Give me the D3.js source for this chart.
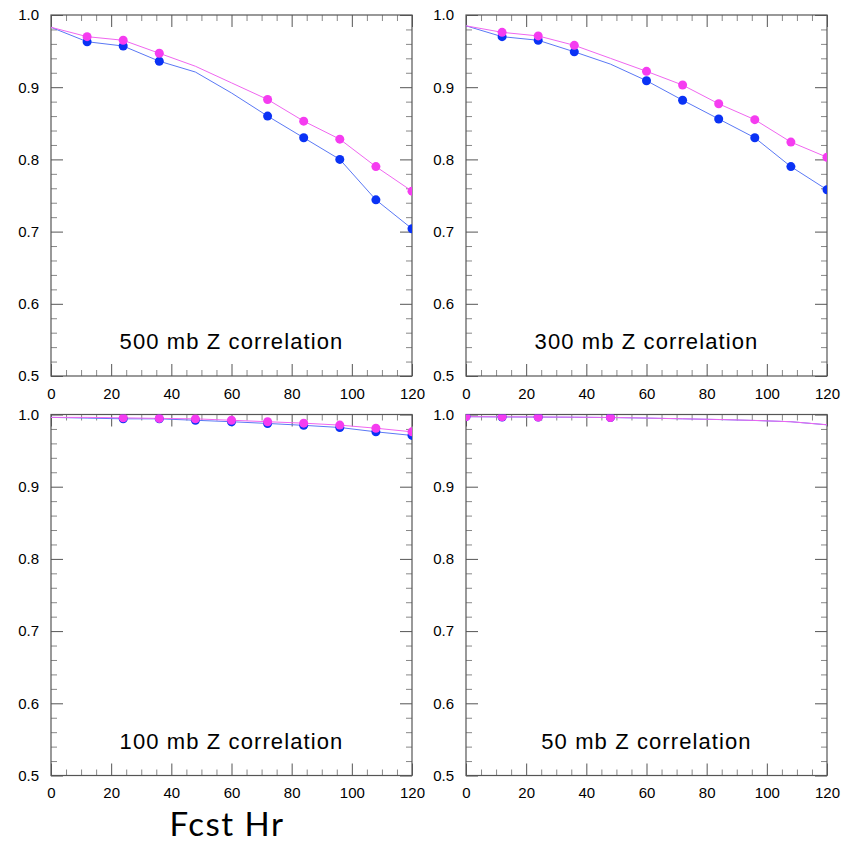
<!DOCTYPE html>
<html>
<head>
<meta charset="utf-8">
<script src="https://cdn.jsdelivr.net/npm/d3@7"></script>
<style>
  body { margin: 0; background: #fff; }
  svg { display: block; }
</style>
</head>
<body>
<div id="chart"></div>
<script>
// forecast hours and axis ticks
const hours = [0, 12, 24, 36, 48, 60, 72, 84, 96, 108, 120];
const xTicks = [0, 20, 40, 60, 80, 100, 120];
const yTicks = [0.5, 0.6, 0.7, 0.8, 0.9, 1.0];

const titles = ["500 mb Z correlation", "300 mb Z correlation", "100 mb Z correlation", "50 mb Z correlation"];

// blue series
const blue500 = [0.983, 0.963, 0.957, 0.936, 0.921, 0.892, 0.860, 0.830, 0.800, 0.744, 0.704];
const blue300 = [0.985, 0.970, 0.965, 0.949, 0.932, 0.909, 0.882, 0.856, 0.830, 0.790, 0.758];
const blue100 = [0.996, 0.995, 0.994, 0.994, 0.992, 0.990, 0.9876, 0.985, 0.982, 0.976, 0.971];
const blue50  = [0.997, 0.9966, 0.9964, 0.9962, 0.9958, 0.995, 0.994, 0.993, 0.9917, 0.990, 0.9857];

// magenta series
const mag500 = [0.983, 0.970, 0.965, 0.947, 0.929, 0.906, 0.883, 0.853, 0.828, 0.790, 0.756];
const mag300 = [0.985, 0.976, 0.971, 0.958, 0.940, 0.922, 0.903, 0.877, 0.855, 0.824, 0.803];
const mag100 = [0.996, 0.996, 0.9954, 0.9946, 0.994, 0.992, 0.990, 0.988, 0.9853, 0.981, 0.976];
const mag50  = [0.997, 0.9968, 0.9966, 0.9963, 0.9959, 0.9951, 0.9941, 0.9931, 0.9918, 0.990, 0.9858];

// hours that carry a marker
const marks500 = [12, 24, 36, 72, 84, 96, 108, 120];
const marks300 = [12, 24, 36, 60, 72, 84, 96, 108, 120];
const marks100 = [24, 36, 48, 60, 72, 84, 96, 108, 120];
const marks50  = [0, 12, 24, 48];

const panels = [
  { title: titles[0], blue: blue500, mag: mag500, marks: marks500, x: 51,  y: 15 },
  { title: titles[1], blue: blue300, mag: mag300, marks: marks300, x: 466, y: 15 },
  { title: titles[2], blue: blue100, mag: mag100, marks: marks100, x: 51,  y: 414.5 },
  { title: titles[3], blue: blue50,  mag: mag50,  marks: marks50,  x: 466, y: 414.5 }
];

const width = 841, height = 847;
const pw = 361, ph = 361;
const blueDot = "#0a32f5", blueLine = "#5a78f5";
const magDot = "#f53cf0", magLine = "#f066f0";
const frameColor = "#555";
const labelFont = "'Liberation Sans', Arial, Helvetica, sans-serif";

const svg = d3.select("#chart").append("svg")
  .attr("width", width)
  .attr("height", height);

const x = d3.scaleLinear().domain([0, 120]).range([0, pw]);
const y = d3.scaleLinear().domain([0.5, 1.0]).range([ph, 0]);

const minorX = d3.range(0, 121, 5).filter(v => v % 20 !== 0);
const minorY = d3.range(0.52, 1.0, 0.02).filter(v => Math.abs(Math.round(v * 10) - v * 10) > 0.01);

const line = d3.line().x(d => x(d[0])).y(d => y(d[1]));

panels.forEach((p, i) => {
  const g = svg.append("g").attr("transform", `translate(${p.x},${p.y})`);

  g.append("clipPath").attr("id", "clip" + i)
    .append("rect").attr("width", pw).attr("height", ph);

  const styleAxis = sel => {
    sel.select(".domain").remove();
    sel.selectAll(".tick line").attr("stroke", frameColor);
    sel.selectAll(".tick text")
      .style("font-family", labelFont)
      .style("font-size", "15px")
      .style("fill", "#000");
  };

  // major ticks, labels on bottom and left
  g.append("g").attr("transform", `translate(0,${ph})`)
    .call(d3.axisBottom(x).tickValues(xTicks).tickSize(-12).tickPadding(12).tickFormat(d3.format("d")))
    .call(styleAxis);
  g.append("g")
    .call(d3.axisLeft(y).tickValues(yTicks).tickSize(-12).tickPadding(12).tickFormat(d3.format(".1f")))
    .call(styleAxis);
  g.append("g")
    .call(d3.axisTop(x).tickValues(xTicks).tickSize(-12).tickFormat(""))
    .call(styleAxis);
  g.append("g").attr("transform", `translate(${pw},0)`)
    .call(d3.axisRight(y).tickValues(yTicks).tickSize(-12).tickFormat(""))
    .call(styleAxis);

  // minor ticks
  const styleMinor = sel => {
    sel.select(".domain").remove();
    sel.selectAll(".tick line").attr("stroke", "#888");
  };
  g.append("g").attr("transform", `translate(0,${ph})`)
    .call(d3.axisBottom(x).tickValues(minorX).tickSize(-6).tickFormat("")).call(styleMinor);
  g.append("g")
    .call(d3.axisTop(x).tickValues(minorX).tickSize(-6).tickFormat("")).call(styleMinor);
  g.append("g")
    .call(d3.axisLeft(y).tickValues(minorY).tickSize(-6).tickFormat("")).call(styleMinor);
  g.append("g").attr("transform", `translate(${pw},0)`)
    .call(d3.axisRight(y).tickValues(minorY).tickSize(-6).tickFormat("")).call(styleMinor);

  // frame
  g.append("rect")
    .attr("width", pw).attr("height", ph)
    .attr("fill", "none").attr("stroke", frameColor).attr("stroke-width", 1.2);

  // series
  const plot = g.append("g").attr("clip-path", `url(#clip${i})`);
  const series = [
    { vals: p.blue, lineColor: blueLine, dot: blueDot },
    { vals: p.mag, lineColor: magLine, dot: magDot }
  ];
  series.forEach(s => {
    const pts = hours.map((h, k) => [h, s.vals[k]]);
    plot.append("path")
      .datum(pts)
      .attr("fill", "none")
      .attr("stroke", s.lineColor)
      .attr("stroke-width", 1)
      .attr("d", line);
  });
  series.forEach(s => {
    const pts = hours.map((h, k) => [h, s.vals[k]]).filter(d => p.marks.includes(d[0]));
    plot.selectAll(null)
      .data(pts)
      .enter().append("circle")
      .attr("cx", d => x(d[0]))
      .attr("cy", d => y(d[1]))
      .attr("r", 4.5)
      .attr("fill", s.dot);
  });

  // panel title
  g.append("text")
    .attr("x", pw / 2)
    .attr("y", ph - 27)
    .attr("text-anchor", "middle")
    .style("font-family", labelFont)
    .style("font-size", "22px")
    .style("letter-spacing", "1.1px")
    .text(p.title);
});

// x axis title
svg.append("text")
  .attr("x", 227)
  .attr("y", 836)
  .attr("text-anchor", "middle")
  .style("font-family", "Lato, 'Open Sans', sans-serif")
  .style("font-size", "33px")
  .style("letter-spacing", "1.5px")
  .text("Fcst Hr");
</script>
</body>
</html>
